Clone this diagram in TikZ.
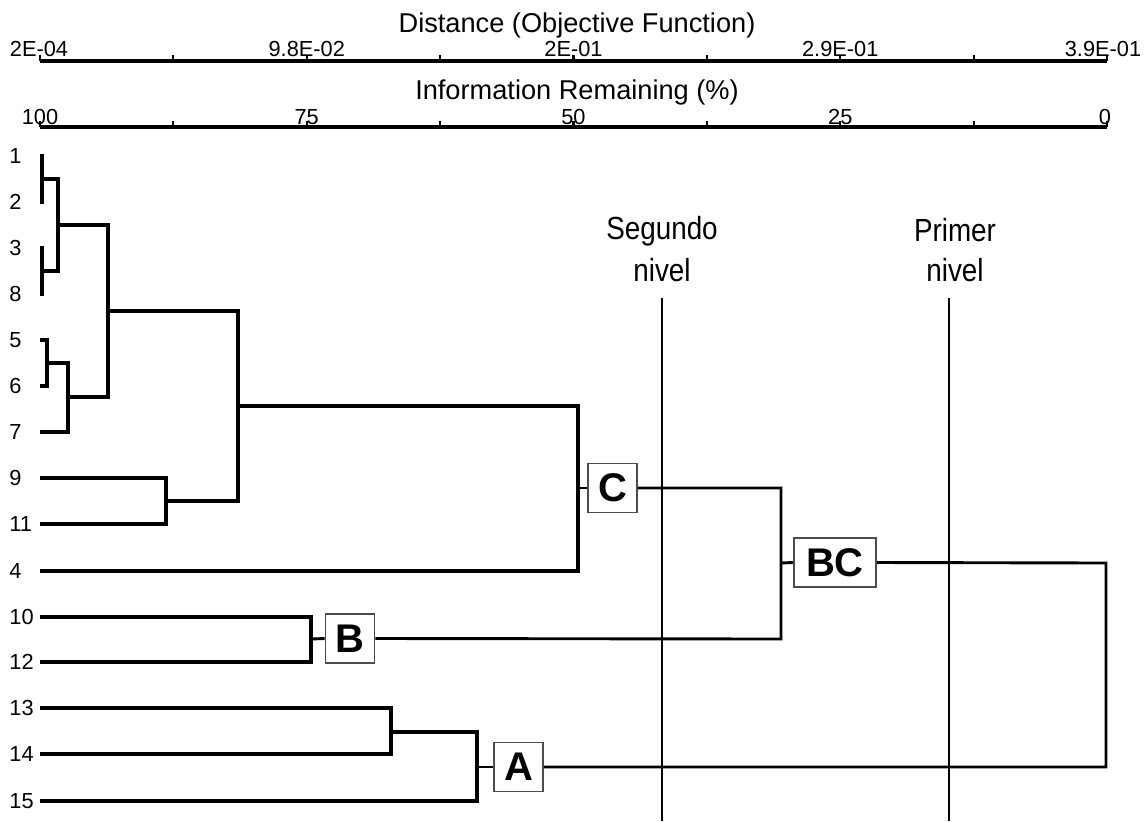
\documentclass[tikz,border=0pt]{standalone}
\usepackage{fontspec}
\setmainfont{Liberation Sans}
\begin{document}
\begin{tikzpicture}[x=0.5pt,y=-0.5pt,
  br/.style={line width=1.75pt, line join=miter},
  lk/.style={line width=1.45pt, line join=miter},
  lvl/.style={line width=1.05pt},
  ax/.style={line width=1.7pt},
  tk/.style={line width=1.05pt},
  num/.style={font=\fontsize{10.9}{12}\selectfont, anchor=base, inner sep=0pt},
  ttl/.style={font=\fontsize{13.6}{15}\selectfont, anchor=base, inner sep=0pt},
  leaf/.style={font=\fontsize{10.9}{12}\selectfont, anchor=west, inner sep=0pt},
  lvltxt/.style={font=\fontsize{16}{18}\selectfont, anchor=base, inner sep=0pt},
  grp/.style={draw=black!70, line width=0.8pt, fill=white, inner sep=0pt,
    font=\bfseries\fontsize{20}{20}\selectfont, minimum height=24.5pt, minimum width=24.5pt}
]
\useasboundingbox (0,0) rectangle (1148,821);

% titles
\node[ttl] (dist) at (577,32) {Distance (Objective Function)};
\node[ttl] (info) at (577,99) {Information Remaining (\%)};

% axes
\draw[ax] (40,61) -- (1107,61);
\draw[ax] (40,127) -- (1107,127);
\foreach \k in {0,...,8} {
  \draw[tk] ({40+133.375*\k},61) -- ++(0,-6);
  \draw[tk] ({40+133.375*\k},127) -- ++(0,-6);
}
\node[num] (d0) at (39,56) {2E-04};
\node[num] (d1) at (306.75,56) {9.8E-02};
\node[num] (d2) at (573.5,56) {2E-01};
\node[num] (d3) at (840.25,56) {2.9E-01};
\node[num] (d4) at (1103,56) {3.9E-01};
\node[num] (p0) at (40,124) {100};
\node[num] (p1) at (306.75,124) {75};
\node[num] (p2) at (573.5,124) {50};
\node[num] (p3) at (840.25,124) {25};
\node[num] (p4) at (1105,124) {0};

% leaves
\foreach \n/\y in {1/156,2/202,3/248,8/294,5/340,6/386,7/432,9/478,11/524,4/571,10/617,12/662,13/708,14/754,15/801} {
  \node[leaf] (t\n) at (9,\y) {\n};
  \coordinate (s\n) at (40,\y);
}

% level lines
\node[lvltxt] (seg1) at (662,239) {\scalebox{0.87}[1]{Segundo}};
\node[lvltxt] (seg2) at (662,281) {\scalebox{0.87}[1]{nivel}};
\node[lvltxt] (pri1) at (955,241) {\scalebox{0.87}[1]{Primer}};
\node[lvltxt] (pri2) at (955,281) {\scalebox{0.87}[1]{nivel}};
\coordinate (lv2top) at (662,298);
\coordinate (lv2bot) at (662,821);
\coordinate (lv1top) at (949,298);
\coordinate (lv1bot) at (949,821);
\draw[lvl] (lv2top) -- (lv2bot);
\draw[lvl] (lv1top) -- (lv1bot);

% group boxes
\node[grp] (C) at (612.5,488) {C};
\node[grp, minimum width=41pt] (BC) at (835,562.5) {BC};
\node[grp] (B) at (350,638.5) {B};
\node[grp] (A) at (518.5,767) {A};

% dendrogram
\draw[br] (s1) -- (42,156) -- (42,202) -- (s2);
\draw[br] (s3) -- (42,248) -- (42,294) -- (s8);
\draw[br] (42,179) -- (58,179) -- (58,271) -- (42,271);
\draw[br] (58,225) -- (108,225) -- (108,397) -- (68,397);
\draw[br] (s5) -- (47,340) -- (47,386) -- (s6);
\draw[br] (47,363) -- (68,363) -- (68,432) -- (s7);
\draw[br] (108,311) -- (238,311) -- (238,501) -- (166,501);
\draw[br] (s9) -- (166,478) -- (166,524) -- (s11);
\draw[br] (238,406) -- (578,406) -- (578,571) -- (s4);
\draw[lk] (578,488) -- (C.west);
\draw[lk] (C.east) -- (781,488) -- (781,639) -- (B.east);
\draw[br] (s10) -- (311,617) -- (311,662) -- (s12);
\draw[lk] (311,639) -- (B.west);
\draw[lk] (781,563) -- (BC.west);
\draw[lk] (BC.east) -- (1106,563) -- (1106,767) -- (A.east);
\draw[br] (s13) -- (391,708) -- (391,754) -- (s14);
\draw[br] (391,732) -- (477,732) -- (477,801) -- (s15);
\draw[lk] (477,767) -- (A.west);
\end{tikzpicture}
\end{document}
